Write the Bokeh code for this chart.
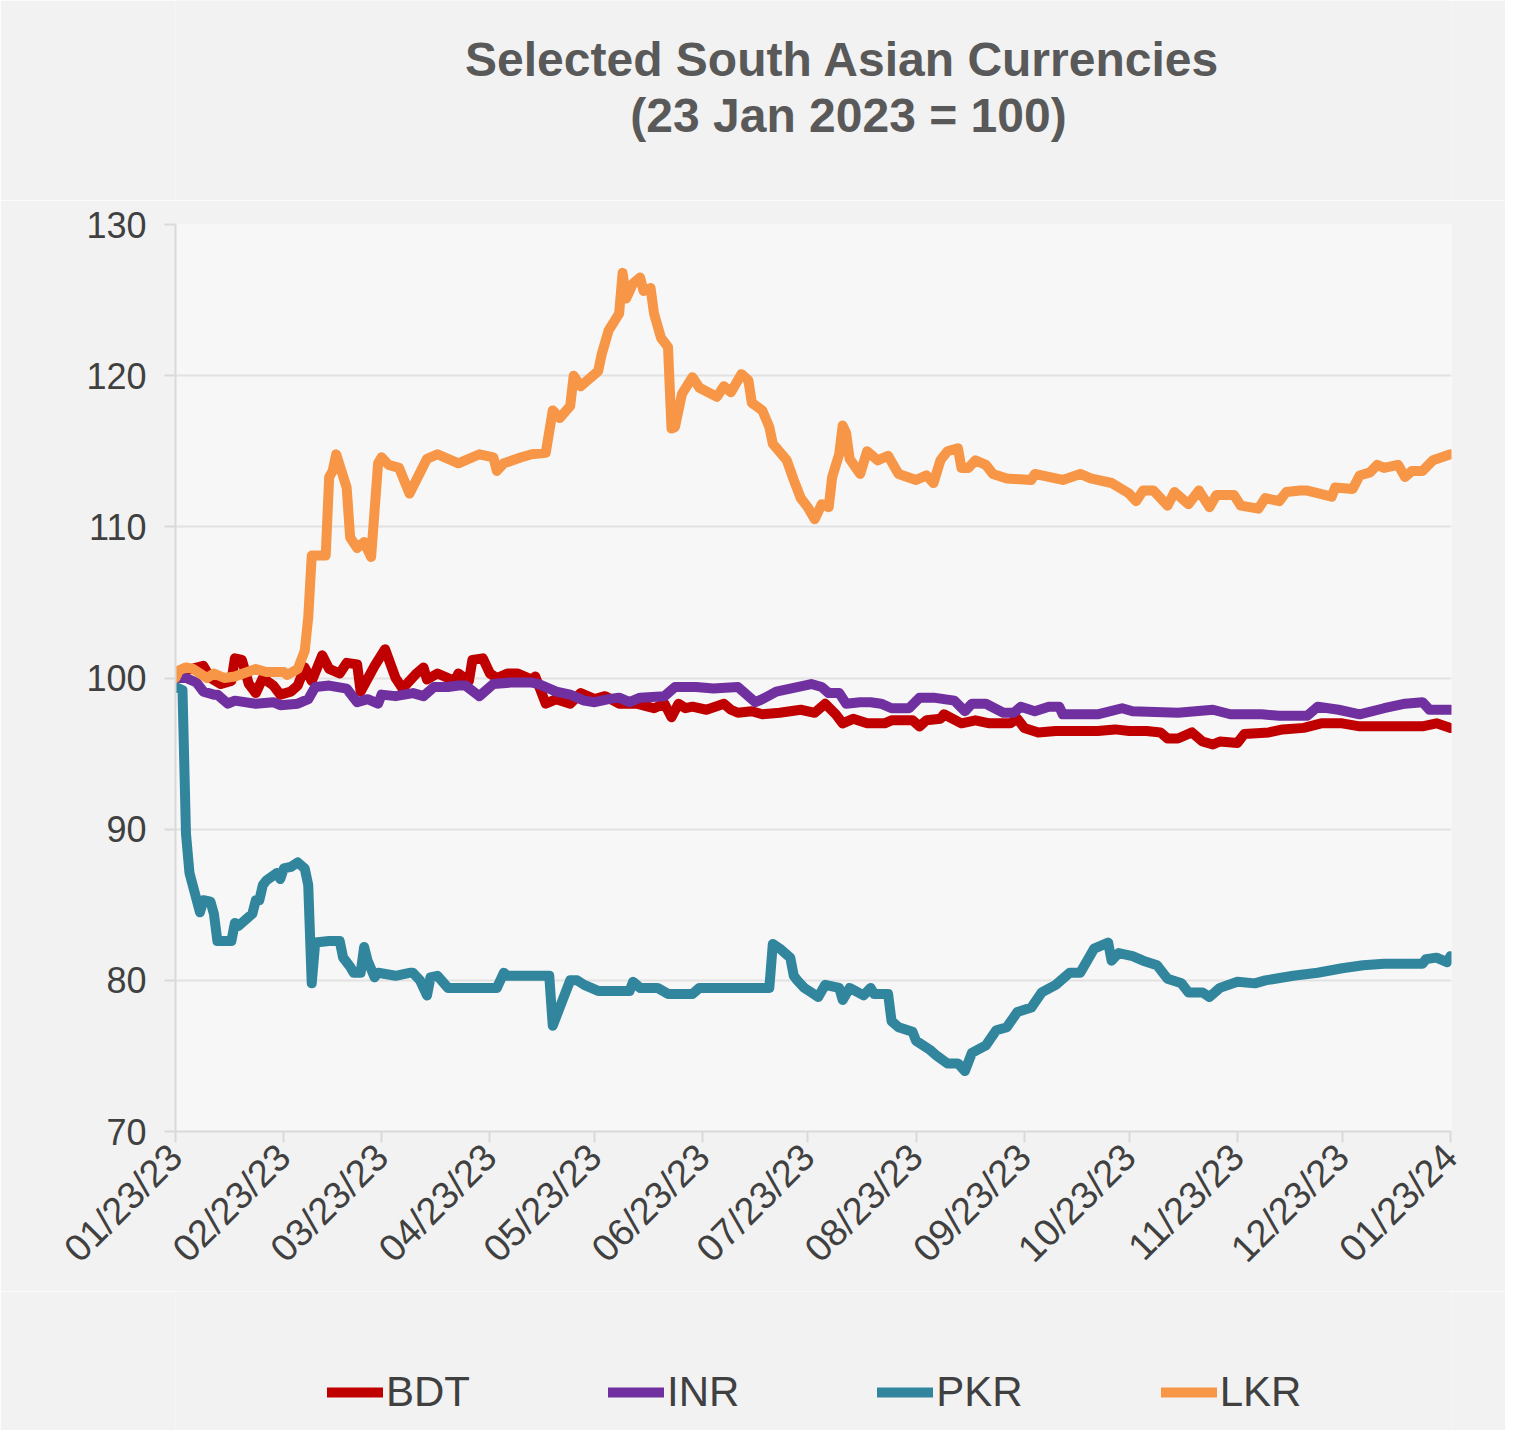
import pandas as pd
from bokeh.plotting import figure
from bokeh.layouts import column
from bokeh.models import (ColumnDataSource, FixedTicker, DatetimeTickFormatter,
                          Range1d, Legend, LegendItem, Label)
from bokeh.embed import file_html
from bokeh.resources import INLINE

START = "2023-01-23"
END = "2024-01-23"
tick_dates = ["2023-01-23", "2023-02-23", "2023-03-23", "2023-04-23", "2023-05-23",
              "2023-06-23", "2023-07-23", "2023-08-23", "2023-09-23", "2023-10-23",
              "2023-11-23", "2023-12-23", "2024-01-23"]
y_ticks = [70, 80, 90, 100, 110, 120, 130]
series_names = ["BDT", "INR", "PKR", "LKR"]
title_lines = ["Selected South Asian Currencies", "(23 Jan 2023 = 100)"]

# days since 23 Jan 2023, index values (23 Jan 2023 = 100)
bdt_days = [0, 3, 8, 10, 13, 16, 17, 19, 21, 23, 25, 28, 30, 33, 35, 37, 39, 42, 44, 47,
            49, 52, 53, 57, 60, 63, 65, 69, 71, 72, 75, 80, 81, 84, 85, 88, 90, 92, 95, 98,
            102, 103, 104, 106, 109, 113, 116, 120, 123, 127, 132, 137, 140, 142, 144, 146,
            148, 152, 157, 159, 161, 165, 168, 173, 179, 183, 186, 189, 191, 194, 198, 203,
            205, 211, 213, 215, 219, 220, 225, 229, 233, 239, 241, 243, 247, 252, 259, 264,
            269, 273, 278, 282, 284, 287, 291, 294, 297, 299, 304, 306, 313, 317, 323, 328,
            334, 339, 346, 352, 357, 361, 365]
bdt_vals = [100.0, 100.5, 100.8, 100.0, 99.6, 99.8, 101.3, 101.2, 99.6, 99.0, 100.0, 99.5,
            98.9, 99.1, 99.5, 100.7, 99.8, 101.5, 100.6, 100.3, 101.0, 100.9, 99.1, 100.8,
            101.9, 100.0, 99.3, 100.3, 100.7, 99.9, 100.3, 99.8, 100.3, 99.8, 101.2, 101.3,
            100.3, 100.0, 100.3, 100.3, 99.9, 100.1, 99.5, 98.3, 98.6, 98.3, 99.0, 98.6,
            98.8, 98.3, 98.3, 98.0, 98.3, 97.4, 98.3, 98.0, 98.1, 97.9, 98.3, 97.9, 97.7,
            97.8, 97.6, 97.7, 97.9, 97.7, 98.3, 97.6, 97.0, 97.3, 97.0, 97.0, 97.2, 97.2,
            96.8, 97.2, 97.3, 97.6, 97.0, 97.2, 97.0, 97.0, 97.3, 96.7, 96.4, 96.5, 96.5,
            96.5, 96.6, 96.5, 96.5, 96.4, 96.0, 96.0, 96.4, 95.8, 95.6, 95.8, 95.7, 96.3,
            96.4, 96.6, 96.7, 97.0, 97.0, 96.8, 96.8, 96.8, 96.8, 97.0, 96.7]

inr_days = [0, 3, 6, 8, 11, 12, 15, 17, 23, 28, 30, 35, 38, 40, 44, 49, 52, 55, 58, 59, 63,
            68, 71, 74, 78, 81, 83, 87, 91, 96, 102, 104, 109, 113, 117, 120, 124, 127, 130,
            133, 140, 143, 149, 154, 161, 166, 168, 172, 178, 182, 185, 187, 190, 192, 196,
            199, 202, 205, 210, 213, 217, 223, 226, 228, 232, 237, 240, 242, 246, 250, 253,
            254, 264, 271, 274, 287, 297, 302, 311, 316, 324, 327, 333, 339, 346, 352, 357,
            359, 365]
inr_vals = [100.0, 100.0, 99.7, 99.1, 98.9, 98.9, 98.3, 98.5, 98.3, 98.4, 98.2, 98.3, 98.6,
            99.4, 99.5, 99.3, 98.4, 98.6, 98.3, 98.9, 98.8, 99.0, 98.8, 99.4, 99.4, 99.5,
            99.5, 98.8, 99.6, 99.7, 99.7, 99.6, 99.1, 98.9, 98.5, 98.4, 98.6, 98.7, 98.4,
            98.7, 98.8, 99.4, 99.4, 99.3, 99.4, 98.4, 98.6, 99.1, 99.4, 99.6, 99.4, 99.0,
            99.0, 98.3, 98.4, 98.4, 98.3, 98.0, 98.0, 98.7, 98.7, 98.5, 97.8, 98.3, 98.3,
            97.7, 97.7, 98.1, 97.8, 98.1, 98.1, 97.6, 97.6, 98.0, 97.8, 97.7, 97.9, 97.6,
            97.6, 97.5, 97.5, 98.1, 97.9, 97.6, 98.0, 98.3, 98.4, 97.9, 97.9]

pkr_days = [0, 2, 3, 4, 7, 8, 10, 11, 12, 16, 17, 18, 22, 23, 24, 25, 26, 29, 30, 31, 33, 35,
            37, 38, 39, 40, 44, 47, 48, 50, 51, 53, 54, 55, 57, 58, 63, 67, 68, 70, 72, 73,
            75, 78, 92, 94, 95, 107, 108, 110, 113, 115, 117, 121, 130, 131, 133, 138, 141,
            148, 150, 155, 170, 171, 173, 176, 177, 178, 180, 182, 184, 186, 190, 191, 193,
            197, 199, 200, 204, 205, 207, 211, 212, 216, 218, 221, 224, 226, 228, 232, 235,
            238, 241, 245, 248, 252, 256, 259, 261, 263, 267, 268, 270, 274, 277, 281, 284,
            288, 290, 294, 296, 299, 304, 309, 312, 320, 327, 334, 340, 346, 357, 358, 361,
            364, 365]
pkr_vals = [99.4, 99.2, 89.7, 87.1, 84.5, 85.3, 85.2, 84.4, 82.6, 82.6, 83.8, 83.6, 84.4,
            85.3, 85.3, 86.3, 86.6, 87.1, 86.7, 87.4, 87.5, 87.8, 87.4, 86.3, 79.8, 82.5,
            82.6, 82.6, 81.5, 80.9, 80.5, 80.5, 82.2, 81.3, 80.2, 80.5, 80.3, 80.5, 80.5,
            80.0, 79.0, 80.2, 80.3, 79.5, 79.5, 80.5, 80.3, 80.3, 77.0, 78.2, 80.0, 80.0,
            79.7, 79.3, 79.3, 79.9, 79.5, 79.5, 79.1, 79.1, 79.5, 79.5, 79.5, 82.4, 82.1,
            81.5, 80.3, 80.0, 79.5, 79.2, 78.9, 79.7, 79.5, 78.7, 79.5, 79.0, 79.5, 79.1,
            79.1, 77.3, 76.9, 76.6, 76.0, 75.4, 75.0, 74.5, 74.5, 74.0, 75.2, 75.7, 76.7,
            76.9, 77.9, 78.2, 79.2, 79.7, 80.5, 80.5, 81.3, 82.1, 82.5, 81.3, 81.8, 81.6,
            81.3, 81.0, 80.1, 79.8, 79.2, 79.2, 78.9, 79.5, 79.9, 79.8, 80.0, 80.3, 80.5,
            80.8, 81.0, 81.1, 81.1, 81.4, 81.5, 81.2, 81.6]

lkr_days = [0, 1, 3, 5, 9, 11, 14, 17, 23, 26, 31, 32, 35, 37, 38, 39, 43, 44, 45, 46, 49,
            50, 52, 54, 56, 58, 59, 61, 64, 67, 72, 75, 81, 87, 91, 92, 94, 99, 102, 106, 108,
            110, 113, 114, 116, 121, 122, 124, 127, 128, 129, 131, 133, 134, 136, 137, 139,
            141, 142, 143, 145, 148, 150, 155, 157, 159, 162, 164, 165, 168, 170, 171, 175,
            177, 179, 181, 183, 185, 187, 188, 190, 191, 192, 193, 196, 198, 201, 204, 207,
            212, 215, 217, 219, 221, 224, 225, 227, 229, 232, 234, 238, 245, 246, 254, 259,
            262, 268, 273, 275, 277, 280, 284, 286, 290, 293, 296, 298, 303, 305, 310, 312,
            316, 318, 322, 324, 331, 332, 337, 339, 342, 344, 346, 350, 352, 354, 357, 360,
            365]
lkr_vals = [100.0, 100.5, 100.7, 100.6, 100.0, 100.3, 100.0, 100.1, 100.6, 100.4, 100.4,
            100.2, 100.6, 101.8, 104.0, 108.1, 108.1, 113.3, 113.7, 114.8, 112.6, 109.3,
            108.6, 109.0, 108.0, 114.2, 114.6, 114.1, 113.9, 112.2, 114.5, 114.8, 114.2,
            114.8, 114.6, 113.7, 114.2, 114.6, 114.8, 114.9, 117.7, 117.2, 118.0, 120.0,
            119.3, 120.3, 121.4, 123.0, 124.1, 126.8, 125.1, 126.1, 126.5, 125.6, 125.8,
            124.1, 122.5, 121.9, 116.5, 116.6, 118.8, 119.9, 119.2, 118.6, 119.3, 118.9,
            120.1, 119.7, 118.2, 117.7, 116.6, 115.5, 114.4, 113.1, 111.9, 111.3, 110.5,
            111.5, 111.3, 113.3, 114.8, 116.7, 116.2, 114.5, 113.5, 115.0, 114.4, 114.7,
            113.5, 113.1, 113.4, 112.9, 114.4, 115.0, 115.2, 113.9, 113.9, 114.4, 114.1,
            113.5, 113.2, 113.1, 113.5, 113.1, 113.5, 113.2, 112.9, 112.2, 111.7, 112.4,
            112.4, 111.4, 112.3, 111.5, 112.4, 111.3, 112.1, 112.1, 111.4, 111.2, 111.9,
            111.7, 112.3, 112.4, 112.4, 112.0, 112.6, 112.5, 113.4, 113.6, 114.1, 113.9,
            114.1, 113.3, 113.7, 113.7, 114.4, 114.8]

colors = ["#c00000", "#7030a0", "#31859c", "#f79646"]
all_days = [bdt_days, inr_days, pkr_days, lkr_days]
all_vals = [bdt_vals, inr_vals, pkr_vals, lkr_vals]


def to_dates(days):
    return (pd.Timestamp(START) + pd.to_timedelta(days, unit="D")).to_numpy()


def ms(d):
    return pd.Timestamp(d).timestamp() * 1000.0


FONT = "Liberation Sans"
TXT = "#404040"
BG = "#f2f2f2"
W = 1505

# ---- title strip (frame is aligned with the chart's frame by the column) ------
tf = figure(width=W, height=200, output_backend="svg", toolbar_location=None,
            title=None, x_axis_location=None, y_axis_location=None,
            x_range=Range1d(0, 1), y_range=Range1d(0, 1), min_border=0,
            background_fill_color=BG, border_fill_color=BG, outline_line_color=None)
tf.grid.visible = False
for txt, x, y in zip(title_lines, [667, 673], [141, 85]):
    tf.add_layout(Label(x=x, y=y, x_units="screen", y_units="screen", text=txt,
                        text_align="center", text_baseline="alphabetic",
                        text_font=FONT, text_font_style="bold",
                        text_font_size="48px", text_color="#595959"))

# ---- main chart --------------------------------------------------------------
p = figure(frame_width=1276, frame_height=907, output_backend="svg", toolbar_location=None,
           title=None, x_axis_type="datetime",
           x_range=Range1d(ms(START), ms(END) + 0.3 * 86400000),
           y_range=Range1d(70, 130),
           min_border_left=175, min_border_right=54, min_border_top=24,
           min_border_bottom=160,
           background_fill_color="#f7f7f7", border_fill_color=BG,
           outline_line_color=None)

for name, days, vals, col in zip(series_names, all_days, all_vals, colors):
    src = ColumnDataSource(dict(x=to_dates(days), y=vals))
    p.line("x", "y", source=src, line_color=col, line_width=10,
           line_join="round", line_cap="round")

p.xgrid.grid_line_color = None
p.ygrid.grid_line_color = "#e2e2e2"
p.ygrid.grid_line_width = 2

xa = p.xaxis[0]
xa.ticker = FixedTicker(ticks=[ms(d) for d in tick_dates])
fmt = "%m/%d/%y"
xa.formatter = DatetimeTickFormatter(milliseconds=fmt, seconds=fmt, minsec=fmt, minutes=fmt,
                                     hourmin=fmt, hours=fmt, days=fmt, months=fmt,
                                     years=fmt, context=None)
xa.major_label_orientation = 0.785398
ya = p.yaxis[0]
ya.ticker = FixedTicker(ticks=y_ticks)
for ax in (xa, ya):
    ax.axis_line_color = "#d9d9d9"
    ax.axis_line_width = 2
    ax.major_tick_line_color = "#d9d9d9"
    ax.major_tick_line_width = 2
    ax.major_tick_out = 11
    ax.major_tick_in = 0
    ax.minor_tick_line_color = None
    ax.major_label_text_font = FONT
    ax.major_label_text_color = TXT
xa.major_label_text_font_size = "38px"
ya.major_label_text_font_size = "36px"
xa.major_label_standoff = 8
ya.major_label_standoff = 18

# ---- legend strip (key lines sit outside the strip's ranges; only the legend shows them)
lf = figure(width=W, height=139, output_backend="svg", toolbar_location=None,
            title=None, x_axis_location=None, y_axis_location=None,
            x_range=Range1d(0, 1), y_range=Range1d(0, 1), min_border=0,
            background_fill_color=BG, border_fill_color=BG, outline_line_color=None)
lf.grid.visible = False
keys = []
for name, col in zip(series_names, colors):
    r = lf.line(x=[-5, -4], y=[-5, -5], line_color=col, line_width=10, line_cap="round")
    keys.append(LegendItem(label=name, renderers=[r]))
legend = Legend(items=keys, orientation="horizontal", location=(152, 14),
                glyph_width=56, glyph_height=40, label_standoff=3, spacing=138,
                padding=0, margin=0, border_line_color=None, background_fill_alpha=0,
                label_text_font=FONT, label_text_font_size="42px", label_text_color=TXT,
                label_height=40)
lf.add_layout(legend, "center")

page = column(tf, p, lf, spacing=0)
open("out.html", "w").write(file_html(page, INLINE))
